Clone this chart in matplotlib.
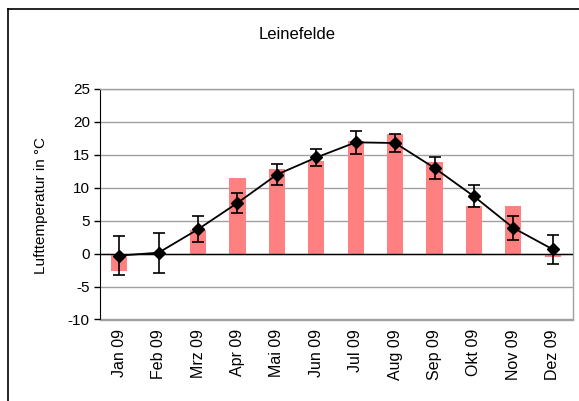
import matplotlib
matplotlib.use("Agg")
import matplotlib.pyplot as plt
from matplotlib.lines import Line2D
import numpy as np

plt.rcParams['font.family'] = ['Liberation Sans', 'DejaVu Sans']

months = ["Jan 09", "Feb 09", "Mrz 09", "Apr 09", "Mai 09", "Jun 09",
          "Jul 09", "Aug 09", "Sep 09", "Okt 09", "Nov 09", "Dez 09"]
bar_values = [-2.7, 0.0, 3.6, 11.5, 12.9, 14.0, 17.1, 18.2, 13.9, 7.3, 7.3, -0.5]
line_values = [-0.3, 0.15, 3.7, 7.7, 12.0, 14.6, 16.9, 16.8, 13.0, 8.7, 3.9, 0.65]
errors = [3.0, 3.05, 2.0, 1.5, 1.55, 1.3, 1.75, 1.3, 1.6, 1.65, 1.8, 2.15]
yticks = [-10, -5, 0, 5, 10, 15, 20, 25]

W, H = 579, 401
fig = plt.figure(figsize=(W / 100, H / 100), dpi=100)
ax = fig.add_axes([99.5 / W, 1 - 319.5 / H, (572.5 - 99.5) / W, (319.5 - 89) / H])

x = np.arange(len(months))
ax.bar(x, bar_values, width=0.41, color="#FF8080", zorder=2)
ax.errorbar(x, line_values, yerr=errors, color="black", lw=1.3, marker="D",
            markersize=6.5, capsize=4, capthick=1.2, elinewidth=1.2, zorder=4)
ax.axhline(0, color="black", lw=1.0, zorder=3)

ax.set_xlim(-0.5, len(months) - 0.5)
ax.set_ylim(-10, 25)
ax.set_yticks(yticks)
ax.set_yticklabels([str(v) for v in yticks], fontsize=11)
ax.yaxis.grid(True, color="#A0A0A0", lw=1.0, zorder=0)
ax.set_axisbelow(True)
ax.set_xticks(x)
ax.set_xticklabels(months, rotation=90, fontsize=11.5)
ax.tick_params(axis="x", length=0, pad=7)
ax.tick_params(axis="y", length=4, width=1, direction="out", pad=3)

for side in ["top", "right", "bottom"]:
    ax.spines[side].set_color("#A0A0A0")
    ax.spines[side].set_linewidth(1.0)
ax.spines["left"].set_color("black")

fig.text(41 / W, 1 - 206 / H, "Lufttemperatur in °C", rotation=90,
         ha="center", va="center", fontsize=11)

fig.text(297 / W, 1 - 39 / H, "Leinefelde", ha="center", va="baseline", fontsize=12)

# outer chart frame (left and top edges visible)
fig.add_artist(Line2D([8 / W, 8 / W], [0, 1 - 9 / H], color="black", lw=1.2,
                      transform=fig.transFigure))
fig.add_artist(Line2D([8 / W, 1], [1 - 9 / H, 1 - 9 / H], color="black", lw=1.2,
                      transform=fig.transFigure))

fig.savefig("out.png", dpi=100)
